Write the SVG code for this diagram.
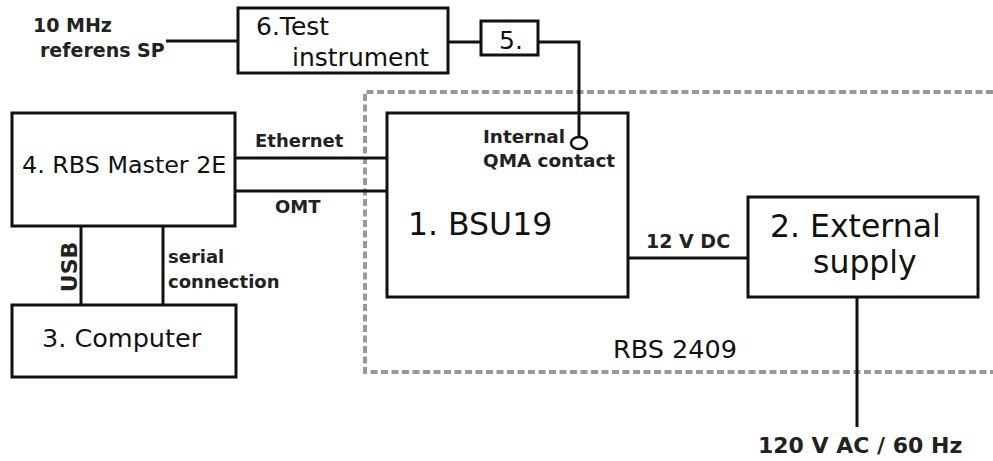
<svg xmlns="http://www.w3.org/2000/svg" width="993" height="461" viewBox="0 0 993 461">
<style>
.box{fill:#fff;stroke:#111;stroke-width:3}
.ln{fill:none;stroke:#111;stroke-width:3}
.dash{fill:none;stroke:#999;stroke-width:4;stroke-dasharray:7 3.5}
.big{font-family:"DejaVu Sans",Verdana,sans-serif;fill:#111}
.lbl{font-family:"DejaVu Sans",Verdana,sans-serif;font-weight:bold;fill:#222}
</style>
<rect width="993" height="461" fill="#fff"/>
<g id="rbs2409">
<path class="dash" d="M993,92 H365 V372 H993"/>
<text class="big" x="613" y="358" font-size="25.5">RBS 2409</text>
</g>
<g id="connectors">
<line class="ln" x1="166" y1="41" x2="238" y2="41"/>
<line class="ln" x1="448" y1="42" x2="481" y2="42"/>
<polyline class="ln" points="538,42 579,42 579,137"/>
<ellipse cx="579" cy="143" rx="8" ry="6" fill="none" stroke="#111" stroke-width="2.5"/>
<line class="ln" x1="235" y1="158" x2="387" y2="158"/>
<line class="ln" x1="235" y1="191" x2="387" y2="191"/>
<line class="ln" x1="81" y1="226" x2="81" y2="305"/>
<line class="ln" x1="163" y1="226" x2="163" y2="305"/>
<line class="ln" x1="628" y1="258" x2="748" y2="258"/>
<line class="ln" x1="857" y1="297" x2="857" y2="427"/>
<text class="lbl" x="33" y="32" font-size="19">10 MHz</text>
<text class="lbl" x="40" y="57" font-size="19">referens SP</text>
<text class="lbl" x="255" y="147" font-size="18">Ethernet</text>
<text class="lbl" x="275" y="213" font-size="18">OMT</text>
<text class="lbl" x="0" y="0" font-size="22" transform="translate(77,267) rotate(-90)" text-anchor="middle">USB</text>
<text class="lbl" x="168" y="263" font-size="18">serial</text>
<text class="lbl" x="168" y="288" font-size="18">connection</text>
<text class="lbl" x="646" y="248" font-size="19">12 V DC</text>
<text class="lbl" x="758" y="453" font-size="22">120 V AC / 60 Hz</text>
<text class="lbl" x="483" y="143" font-size="18.4">Internal</text>
<text class="lbl" x="483" y="167" font-size="18.4">QMA contact</text>
</g>
<g id="n6">
<rect class="box" x="238" y="8" width="210" height="65"/>
<text class="big" x="256" y="35" font-size="25">6.Test</text>
<text class="big" x="292" y="66" font-size="25">instrument</text>
</g>
<g id="n5">
<rect class="box" x="481" y="21" width="57" height="34"/>
<text class="big" x="499" y="49" font-size="25">5.</text>
</g>
<g id="n4">
<rect class="box" x="12" y="113" width="223" height="113"/>
<text class="big" x="22" y="173" font-size="23.8">4. RBS Master 2E</text>
</g>
<g id="n3">
<rect class="box" x="12" y="305" width="224" height="72"/>
<text class="big" x="42" y="347" font-size="25.5">3. Computer</text>
</g>
<g id="n1">
<rect class="box" x="387" y="113" width="241" height="184" style="fill:none"/>
<text class="big" x="408" y="235" font-size="31.5">1. BSU19</text>
</g>
<g id="n2">
<rect class="box" x="748" y="197" width="230" height="100"/>
<text class="big" x="770" y="237" font-size="31.5">2. External</text>
<text class="big" x="813" y="273" font-size="31.5">supply</text>
</g>
</svg>
